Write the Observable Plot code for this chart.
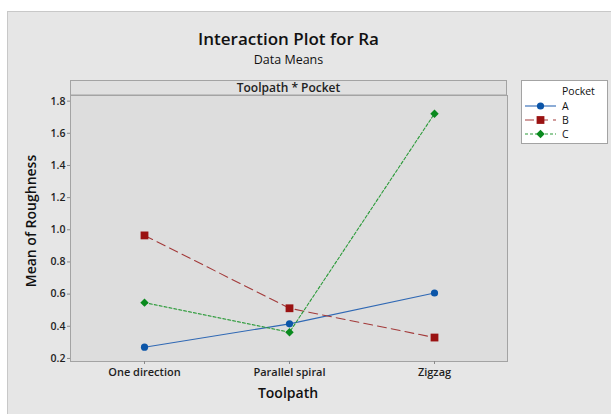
<!DOCTYPE html>
<html><head><meta charset="utf-8">
<script src="https://cdn.jsdelivr.net/npm/d3@7"></script>
<script src="https://cdn.jsdelivr.net/npm/@observablehq/plot@0.6"></script>
<style>
body{margin:0;background:#fff;}
#wrap{position:relative;width:611px;height:414px;overflow:hidden;background:#fff;font-family:"Open Sans",sans-serif;}
#bg{position:absolute;left:7px;top:11px;width:620px;height:420px;background:#e6e6e6;border:1px solid #c8c8c8;}
#wrap svg{position:absolute;left:0;top:0;}
#chart svg text{fill:#1e1e1e;}
</style></head>
<body>
<div id="wrap"><div id="bg"></div><div id="chart"></div><svg id="over" width="611" height="414"></svg></div>
<script>
// ---- data ----
const toolpaths = ["One direction", "Parallel spiral", "Zigzag"];
const pockets = ["A", "B", "C"];
const meanA = [0.270, 0.415, 0.607];
const meanB = [0.965, 0.512, 0.330];
const meanC = [0.547, 0.363, 1.722];
const yTicks = [0.2, 0.4, 0.6, 0.8, 1.0, 1.2, 1.4, 1.6, 1.8];
const titleText = "Interaction Plot for Ra";
const subtitleText = "Data Means";
const panelText = "Toolpath * Pocket";
const xLabel = "Toolpath";
const yLabel = "Mean of Roughness";
const legendTitle = "Pocket";

// ---- styles ----
const seriesStyle = {
  A: {line: "#2f68b4", mark: "#0b55a8", dash: null, symbol: "circle", r: 3.6},
  B: {line: "#a33a3a", mark: "#9a1212", dash: "9,5", symbol: "square", r: 4.4},
  C: {line: "#2a9a38", mark: "#0a8a1e", dash: "3,2", symbol: "diamond2", r: 3.8}
};
const series = {A: meanA, B: meanB, C: meanC};
const rows = pockets.flatMap(p => toolpaths.map((t, i) => ({pocket: p, toolpath: t, mean: series[p][i]})));

const marks = [
  Plot.frame({fill: "#dddddd", stroke: "#a3a3a3"}),
  Plot.axisY(yTicks, {tickFormat: d3.format(".1f"), tickSize: 3, tickPadding: 2, stroke: "#8a8a8a", fontSize: 10.5, fontWeight: 600, label: null}),
  Plot.axisX({tickSize: 3, tickPadding: 4, stroke: "#8a8a8a", fontSize: 11, fontWeight: 600, label: null})
];
for (const p of pockets) {
  const s = seriesStyle[p];
  const d = rows.filter(r => r.pocket === p);
  marks.push(Plot.line(d, {x: "toolpath", y: "mean", stroke: s.line, strokeWidth: 1.1, strokeDasharray: s.dash}));
  marks.push(Plot.dot(d, {x: "toolpath", y: "mean", symbol: () => s.symbol, fill: s.mark, stroke: "none", r: s.r}));
}

const chart = Plot.plot({
  width: 611, height: 414,
  marginLeft: 70, marginRight: 104, marginTop: 95, marginBottom: 53,
  style: {background: "transparent", fontFamily: "'Open Sans', sans-serif"},
  x: {type: "point", domain: toolpaths, padding: 0.5, label: null},
  y: {domain: [0.181, 1.835], label: null},
  symbol: {type: "identity"},
  marks
});
document.getElementById("chart").append(chart);

// ---- overlay text: titles, panel header, axis labels, legend ----
const o = d3.select("#over").style("font-family", "'Open Sans', sans-serif");
o.append("text").attr("x", 288.5).attr("y", 45).attr("text-anchor", "middle")
  .attr("font-size", 17).attr("font-weight", 600).attr("fill", "#111").text(titleText);
o.append("text").attr("x", 288.5).attr("y", 64).attr("text-anchor", "middle")
  .attr("font-size", 12.5).attr("font-weight", 400).attr("fill", "#111").text(subtitleText);
o.append("rect").attr("x", 70.5).attr("y", 80.5).attr("width", 436).attr("height", 14.5)
  .attr("fill", "#e0e0e0").attr("stroke", "#a3a3a3");
o.append("text").attr("x", 288.5).attr("y", 91.5).attr("text-anchor", "middle")
  .attr("font-size", 12).attr("font-weight", 600).attr("fill", "#222").text(panelText);
o.append("text").attr("x", 288).attr("y", 398).attr("text-anchor", "middle")
  .attr("font-size", 14).attr("font-weight", 600).attr("fill", "#111").text(xLabel);
o.append("text").attr("transform", "translate(36,221) rotate(-90)").attr("text-anchor", "middle")
  .attr("font-size", 14).attr("font-weight", 600).attr("fill", "#111").text(yLabel);

// legend
const lg = o.append("g");
lg.append("rect").attr("x", 521.5).attr("y", 80.5).attr("width", 86).attr("height", 63)
  .attr("fill", "#fff").attr("stroke", "#a3a3a3");
lg.append("text").attr("x", 562).attr("y", 95).attr("font-size", 10.5).attr("font-weight", 400).attr("fill", "#111").text(legendTitle);
const symMap = {circle: d3.symbolCircle, square: d3.symbolSquare, diamond2: d3.symbolDiamond2};
pockets.forEach((p, i) => {
  const s = seriesStyle[p];
  const y = 106 + i * 14;
  lg.append("line").attr("x1", 525).attr("x2", 556).attr("y1", y).attr("y2", y)
    .attr("stroke", s.line).attr("stroke-width", 1.1).attr("stroke-dasharray", s.dash);
  lg.append("path").attr("transform", `translate(540.5,${y})`)
    .attr("d", d3.symbol(symMap[s.symbol], Math.PI * s.r * s.r)()).attr("fill", s.mark);
  lg.append("text").attr("x", 562).attr("y", y + 4).attr("font-size", 10.5).attr("font-weight", 400).attr("fill", "#111").text(p);
});
</script>
</body></html>
